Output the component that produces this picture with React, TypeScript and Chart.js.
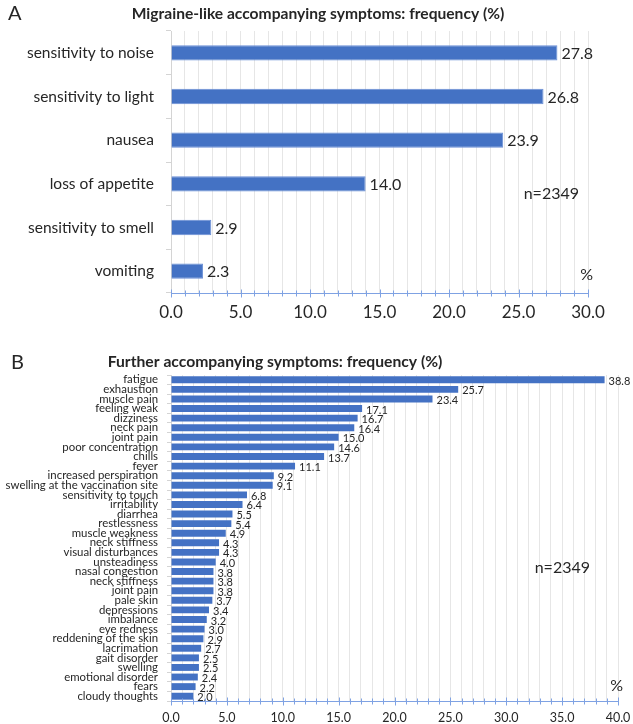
import React, { useEffect, useRef } from "react";
import { Chart, registerables } from "chart.js";

Chart.register(...registerables);

// ---------- Data ----------
const migraineLabels = [
  "sensitivity to noise",
  "sensitivity to light",
  "nausea",
  "loss of appetite",
  "sensitivity to smell",
  "vomiting",
];
const migraineValues = [27.8, 26.8, 23.9, 14.0, 2.9, 2.3];
const migraineMax = 30;

const furtherLabels = [
  "fatigue",
  "exhaustion",
  "muscle pain",
  "feeling weak",
  "dizziness",
  "neck pain",
  "joint pain",
  "poor concentration",
  "chills",
  "fever",
  "increased perspiration",
  "swelling at the vaccination site",
  "sensitivity to touch",
  "irritability",
  "diarrhea",
  "restlessness",
  "muscle weakness",
  "neck stiffness",
  "visual disturbances",
  "unsteadiness",
  "nasal congestion",
  "neck stiffness",
  "joint pain",
  "pale skin",
  "depressions",
  "imbalance",
  "eye redness",
  "reddening of the skin",
  "lacrimation",
  "gait disorder",
  "swelling",
  "emotional disorder",
  "fears",
  "cloudy thoughts",
];
const furtherValues = [
  38.8, 25.7, 23.4, 17.1, 16.7, 16.4, 15.0, 14.6, 13.7, 11.1, 9.2, 9.1, 6.8,
  6.4, 5.5, 5.4, 4.9, 4.3, 4.3, 4.0, 3.8, 3.8, 3.8, 3.7, 3.4, 3.2, 3.0, 2.9,
  2.7, 2.5, 2.5, 2.4, 2.2, 2.0,
];
const furtherMax = 40;

const titleA = "Migraine-like accompanying symptoms: frequency (%)";
const titleB = "Further accompanying symptoms: frequency (%)";
const sampleText = "n=2349";
const unitText = "%";

// ---------- Styles ----------
const FONT = "Lato, 'Open Sans', sans-serif";
const BAR = "#4472C4";
const TEXT = "#262626";
const GRID = "#E6E6E6";
const AXIS = "#7FA2E3";
const YAXIS = "#D4D4D4";

const valueLabelPlugin = {
  id: "valueLabels",
  afterDatasetsDraw(chart: any, _a: any, opts: any) {
    const ctx = chart.ctx;
    const meta = chart.getDatasetMeta(0);
    const data = chart.data.datasets[0].data;
    ctx.save();
    ctx.font = opts.font;
    ctx.fillStyle = TEXT;
    ctx.textAlign = "left";
    ctx.textBaseline = "middle";
    meta.data.forEach((el: any, i: number) => {
      ctx.fillText(Number(data[i]).toFixed(1), el.x + opts.offset, el.y + opts.dy);
    });
    ctx.restore();
  },
};

const axisTickPlugin = {
  id: "axisTicks",
  afterDraw(chart: any) {
    const ctx = chart.ctx;
    const xs = chart.scales.x;
    const y = Math.round(chart.chartArea.bottom) + 0.5;
    ctx.save();
    ctx.strokeStyle = AXIS;
    ctx.lineWidth = 1;
    ctx.beginPath();
    ctx.moveTo(xs.getPixelForValue(xs.min), y);
    ctx.lineTo(xs.getPixelForValue(xs.max), y);
    for (let v = xs.min; v <= xs.max; v += 1) {
      const px = Math.round(xs.getPixelForValue(v)) + 0.5;
      const h = v % 5 === 0 ? 4 : 3;
      ctx.moveTo(px, y - h);
      ctx.lineTo(px, y + h);
    }
    ctx.stroke();
    ctx.restore();
  },
};

const annotationPlugin = {
  id: "annotations",
  afterDraw(chart: any, _a: any, opts: any) {
    const ctx = chart.ctx;
    const ca = chart.chartArea;
    ctx.save();
    ctx.fillStyle = TEXT;
    ctx.textBaseline = "middle";
    // panel letter
    ctx.font = `20px ${FONT}`;
    ctx.textAlign = "left";
    ctx.fillText(opts.letter, opts.letterX, opts.letterY);
    // title
    ctx.font = `bold ${opts.titleSize}px ${FONT}`;
    ctx.textAlign = "center";
    ctx.fillText(opts.title, opts.titleX, opts.titleY);
    // n and unit
    ctx.font = `16px ${FONT}`;
    ctx.textAlign = "right";
    ctx.fillText(sampleText, ca.right + opts.nDx, ca.top + opts.nDy);
    ctx.fillText(unitText, ca.right + opts.pDx, ca.bottom + opts.pDy);
    ctx.restore();
  },
};

type PanelProps = {
  labels: string[];
  values: number[];
  max: number;
  width: number;
  height: number;
  top: number;
  areaLeft: number;
  areaTop: number;
  areaRight: number;
  areaBottom: number;
  barFrac: number;
  barBorder: number;
  catFont: number;
  catPad: number;
  catTick: number;
  tickFont: number;
  tickPad: number;
  valueFont: number;
  valueDy: number;
  annotations: any;
};

function BarPanel(p: PanelProps) {
  const ref = useRef<HTMLCanvasElement | null>(null);
  useEffect(() => {
    if (!ref.current) return;
    const chart = new Chart(ref.current, {
      type: "bar",
      data: {
        labels: p.labels,
        datasets: [
          {
            data: p.values,
            backgroundColor: BAR,
            borderColor: "#6A8FD6",
            borderWidth: p.barBorder,
            barPercentage: p.barFrac,
            categoryPercentage: 1,
          },
        ],
      },
      options: {
        indexAxis: "y",
        responsive: false,
        animation: false,
        devicePixelRatio: 1,
        layout: {
          padding: {
            left: 0,
            top: p.areaTop,
            right: p.width - p.areaRight,
            bottom: 0,
          },
        },
        plugins: {
          legend: { display: false },
          tooltip: { enabled: false },
          title: { display: false },
          valueLabels: { font: `${p.valueFont}px ${FONT}`, offset: 4, dy: p.valueDy },
          annotations: p.annotations,
        } as any,
        scales: {
          x: {
            type: "linear",
            min: 0,
            max: p.max,
            afterFit: (s: any) => {
              s.height = p.height - p.areaBottom;
              s.paddingLeft = 0;
              s.paddingRight = 0;
            },
            border: { display: false },
            grid: {
              color: GRID,
              drawTicks: false,
              lineWidth: 1,
            },
            ticks: {
              stepSize: 1,
              autoSkip: false,
              maxTicksLimit: 100,
              maxRotation: 0,
              padding: p.tickPad,
              color: TEXT,
              font: { family: FONT, size: p.tickFont },
              callback: (v: any) => (Number(v) % 5 === 0 ? Number(v).toFixed(1) : ""),
            },
          },
          y: {
            type: "category",
            afterFit: (s: any) => {
              s.width = p.areaLeft;
            },
            border: { display: true, color: YAXIS },
            grid: {
              drawOnChartArea: false,
              drawTicks: true,
              tickLength: p.catTick,
              color: YAXIS,
              offset: true,
            },
            ticks: {
              autoSkip: false,
              padding: p.catPad,
              color: TEXT,
              font: { family: FONT, size: p.catFont, lineHeight: 1 },
            },
          },
        },
      } as any,
      plugins: [valueLabelPlugin, axisTickPlugin, annotationPlugin],
    });
    return () => chart.destroy();
  }, []);
  return (
    <canvas
      ref={ref}
      width={p.width}
      height={p.height}
      style={{ position: "absolute", left: 0, top: p.top, width: p.width, height: p.height }}
    />
  );
}

export default function App() {
  return (
    <div
      style={{
        position: "absolute",
        left: 0,
        top: 0,
        width: 633,
        height: 724,
        background: "#ffffff",
        overflow: "hidden",
      }}
    >
      <BarPanel
        labels={migraineLabels}
        values={migraineValues}
        max={migraineMax}
        width={633}
        height={335}
        top={0}
        areaLeft={171}
        areaTop={31}
        areaRight={588}
        areaBottom={293}
        barFrac={0.35}
        barBorder={1}
        catFont={15.5}
        catPad={12}
        catTick={5}
        tickFont={17}
        tickPad={9}
        valueFont={16}
        valueDy={1}
        annotations={{
          letter: "A",
          letterX: 8,
          letterY: 14,
          title: titleA,
          titleSize: 15.6,
          titleX: 318,
          titleY: 14,
          nDx: -9,
          nDy: 163,
          pDx: 5,
          pDy: -18,
        }}
      />
      <BarPanel
        labels={furtherLabels}
        values={furtherValues}
        max={furtherMax}
        width={633}
        height={389}
        top={335}
        areaLeft={171}
        areaTop={40}
        areaRight={618}
        areaBottom={366}
        barFrac={0.72}
        barBorder={0}
        catFont={11.4}
        catPad={9}
        catTick={4}
        tickFont={12.5}
        tickPad={9}
        valueFont={11}
        valueDy={1.5}
        annotations={{
          letter: "B",
          letterX: 11,
          letterY: 28,
          title: titleB,
          titleSize: 15.7,
          titleX: 275,
          titleY: 27,
          nDx: -28,
          nDy: 193,
          pDx: 5,
          pDy: -15,
        }}
      />
    </div>
  );
}
